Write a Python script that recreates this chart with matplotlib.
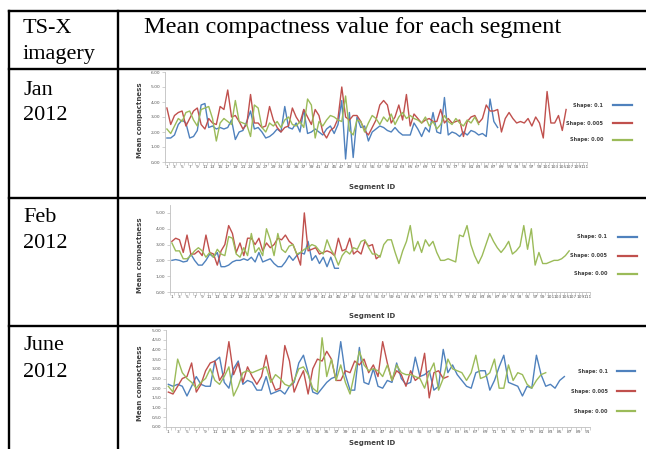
import matplotlib
matplotlib.use("Agg")
import matplotlib.pyplot as plt
import numpy as np
from matplotlib.lines import Line2D

# ---- data ----
row_labels = [["TS-X", "imagery"], ["Jan", "2012"], ["Feb", "2012"], ["June", "2012"]]
header = "Mean compactness value for each segment"
series_names = ["Shape: 0.1", "Shape: 0.005", "Shape: 0.00"]

jan_blue = [1.6, 1.6, 1.8, 2.5, 2.8, 2.6, 1.6, 1.7, 2.1, 3.8,
            3.9, 2.3, 2.4, 2.2, 2.3, 2.2, 2.3, 2.8, 1.5, 2.0,
            2.1, 2.7, 3.4, 2.2, 2.3, 2.0, 1.6, 1.7, 1.9, 2.2,
            2.0, 3.7, 2.3, 2.2, 2.6, 2.0, 3.5, 1.9, 2.0, 2.2,
            2.0, 1.8, 2.2, 2.4, 1.9, 2.5, 4.1, 0.2, 3.3, 0.3,
            3.0, 2.3, 2.4, 1.4, 2.0, 2.2, 2.4, 2.3, 2.1, 2.0,
            2.3, 2.0, 1.8, 1.8, 1.8, 2.6, 2.2, 1.7, 2.3, 2.0,
            3.3, 2.0, 1.9, 4.3, 1.8, 2.0, 1.9, 1.7, 2.0, 1.8,
            2.1, 2.0, 1.8, 1.9, 1.7, 4.2, 2.7, 2.3]
jan_red = [3.6, 2.5, 3.1, 3.3, 3.4, 2.4, 2.9, 3.4, 3.6, 2.5,
           2.2, 2.9, 2.6, 2.5, 3.7, 3.5, 4.8, 3.0, 3.1, 2.7,
           2.2, 2.5, 4.5, 2.6, 2.6, 2.3, 2.4, 3.7, 2.8, 2.3,
           2.0, 2.3, 2.4, 3.6, 3.0, 2.6, 3.5, 3.0, 2.5, 3.5,
           3.1, 2.0, 1.6, 2.1, 2.3, 2.9, 5.0, 3.0, 2.8, 3.1,
           3.1, 2.7, 2.1, 1.8, 2.3, 2.8, 3.8, 4.1, 3.8, 2.6,
           3.0, 3.8, 2.8, 4.5,
           2.4, 3.2, 2.9, 2.6, 2.8, 2.9, 2.7, 2.7, 3.5, 2.6, 2.9, 2.6, 2.7, 2.8, 1.7,
           2.7, 3.0, 3.1, 2.6, 2.9, 3.8,
           3.4, 3.4, 3.5, 2.0,
           2.9, 3.3, 2.9, 2.6, 2.7, 2.6, 2.9, 2.4, 3.0, 2.6, 1.6,
           4.7, 2.6, 2.6, 3.1, 2.1, 3.5]
jan_green = [2.2, 1.9, 2.4, 2.9, 2.7, 3.3, 3.4, 2.8, 2.4, 3.5,
             3.6, 3.7, 2.9, 1.4, 2.6, 2.9, 2.7, 2.5, 4.1, 2.7,
             2.6, 2.5, 1.7, 3.8, 3.6, 2.3, 2.0, 2.6, 2.4, 2.7,
             2.3, 2.8, 3.0, 2.5, 2.4, 2.7, 2.3, 4.2, 3.8, 1.6,
             2.7, 2.4, 2.8, 3.1, 3.0, 2.8, 2.7, 4.4, 2.1, 1.8,
             2.8, 2.7, 2.0, 2.6, 3.1, 2.9, 2.5, 3.0, 2.7, 3.2,
             2.5, 3.0, 3.3, 2.9, 3.1, 2.9, 2.8, 2.6, 3.0, 2.4,
             2.7, 2.2, 2.5, 3.1, 2.7, 2.5, 2.9, 2.6, 2.4, 2.8,
             2.6, 3.0, 2.5]

feb_blue = [2.0, 2.05, 2.0, 1.9, 1.95, 2.4, 2.0, 1.7, 1.7, 2.0,
            2.4, 2.2, 2.5, 1.6, 1.6, 1.7, 1.9, 2.0, 2.0, 2.1,
            2.0, 2.2, 1.9, 2.5, 1.9, 2.0, 2.1, 1.8, 1.6, 1.6,
            1.9, 2.3, 2.0, 2.3, 2.5, 2.4, 3.2, 2.0, 2.3, 1.8,
            2.2, 1.6, 2.2, 1.5, 1.5]
feb_red = [3.2, 3.4, 3.3, 2.5, 3.6, 2.4, 2.4, 2.6, 2.3, 3.6,
           2.5, 2.4, 1.7, 2.6, 3.0, 4.2, 3.7, 2.5, 3.1, 2.3,
           3.4, 3.4, 3.0, 3.4, 2.6, 3.1, 2.8, 3.0, 3.4, 3.3,
           3.6, 3.2, 3.0, 2.4, 1.7, 5.0, 2.6, 2.7, 2.8, 2.4,
           2.5, 2.6, 2.5, 2.3, 3.4, 2.6, 2.7, 3.4, 2.4, 2.6,
           2.4, 3.2, 2.9, 3.0, 2.1, 2.3]
feb_green = [3.1, 2.6, 2.6, 2.1, 2.1, 2.3, 2.6, 2.8, 2.6, 2.2,
             2.5, 2.2, 2.7, 2.4, 2.3, 3.5, 3.4, 2.4, 2.2, 2.8,
             2.3, 3.7, 2.5, 2.8, 2.3, 4.0, 3.3, 2.3, 3.7, 2.7,
             2.5, 2.9, 3.0, 2.4, 2.5, 2.7, 2.8, 3.0, 2.9, 2.6,
             2.4, 3.3, 2.7, 2.3, 1.7, 2.3, 2.6, 2.4, 2.8, 2.7,
             3.2, 3.3, 2.8, 2.4, 2.4, 2.2,
             3.0, 3.3, 3.3, 2.5, 1.8, 2.6, 3.2, 4.2, 2.6, 3.2,
             2.5, 3.3, 2.9, 3.2, 2.5, 2.0, 2.0, 2.1, 2.0, 1.9,
             3.6, 3.5, 4.2, 3.0, 2.3, 1.8, 2.3, 3.0, 3.7, 3.2,
             2.8, 2.5, 2.8, 3.2,
             2.4, 2.6, 2.9, 4.2, 2.7, 4.0, 1.7, 2.5, 1.8, 1.8,
             1.9, 2.0, 2.0, 2.1, 2.3, 2.6]

june_blue = [2.2, 2.1, 2.2, 2.1, 1.6, 2.1, 2.6, 2.2, 2.1, 2.1,
             3.4, 3.6, 2.3, 2.0, 3.0, 3.4, 2.2, 2.4, 2.3, 1.9,
             1.9, 2.6, 1.7, 1.8, 1.9, 1.7, 2.1, 2.3, 3.3, 3.7,
             2.8, 1.8, 1.7, 2.0, 2.3, 2.5, 2.6, 4.4, 2.7, 1.9,
             1.9, 4.1,
             2.3, 2.2, 3.0, 2.1, 2.0, 2.4, 2.3,
             3.3, 2.5, 2.2, 2.3, 3.6, 2.6, 2.7, 2.9, 1.9, 2.1,
             4.0, 2.8, 3.2, 2.7, 2.4, 2.1, 2.0, 2.8, 2.9, 2.9,
             1.9, 2.4, 3.1, 3.7, 2.3, 2.2, 2.1, 1.6, 2.1, 2.0,
             3.7, 2.7, 2.1, 2.2, 2.0, 2.4, 2.6]
june_red = [1.8, 1.7, 2.1, 2.5, 2.6, 3.3, 1.8, 2.2, 2.9, 3.3,
            3.4, 2.4, 2.8, 4.4, 2.7, 3.3, 2.3, 3.1, 2.6, 2.2,
            2.6, 3.7, 2.5, 1.9, 2.0, 4.2, 3.4, 1.8, 2.4, 2.9,
            1.7, 3.0, 3.5, 3.4, 3.9, 3.5, 2.4, 2.4, 2.9, 2.8,
            3.4, 3.2, 3.5, 2.8, 3.2, 2.6, 4.4, 3.3, 2.4, 2.9,
            2.7, 2.1, 2.9, 2.4, 2.6, 3.8, 1.5, 2.8, 2.9, 2.5,
            2.6]
june_green = [2.1, 1.8, 3.5, 2.8, 2.5, 2.3, 2.0, 2.3, 2.5, 3.0,
              2.4, 2.2, 2.6, 3.1, 1.6, 2.1, 2.8, 2.9, 2.8, 2.9,
              3.0, 3.1, 2.3, 2.7, 2.5, 2.2, 2.1, 2.4, 3.0, 3.1,
              2.7, 2.0, 1.8, 4.6, 2.6, 3.5, 2.4, 3.2, 2.3, 1.7,
              2.8, 3.9, 3.2, 2.9, 3.0, 2.9, 2.6, 3.2, 2.4, 3.2,
              2.8, 2.7, 2.7, 2.6, 2.5, 2.0, 2.8, 3.3, 1.9, 2.5,
              3.5, 3.0, 2.9, 2.8, 2.4, 2.8, 3.7, 2.5, 2.6, 2.8,
              3.5, 2.0, 2.0, 3.2, 2.4, 2.8, 2.7, 2.2, 2.0, 2.4,
              2.7, 2.8]

colors = ["#4F81BD", "#C0504D", "#9BBB59"]

W, H = 646, 449
fig = plt.figure(figsize=(W / 100, H / 100), dpi=100)
fig.patch.set_facecolor("white")


def fx(x):
    return x / W


def fy(y):
    return 1 - y / H


def hline(y, x0, x1):
    fig.add_artist(Line2D([fx(x0), fx(x1)], [fy(y), fy(y)], color="black",
                          lw=1.7, transform=fig.transFigure, zorder=10))


def vline(x, y0, y1):
    fig.add_artist(Line2D([fx(x), fx(x)], [fy(y0), fy(y1)], color="black",
                          lw=1.7, transform=fig.transFigure, zorder=10))


# table grid
for y in [11, 69, 198, 326]:
    hline(y, 9, W)
vline(9, 11, H)
vline(118, 11, H)

serif = "Liberation Serif"
baselines = [(33, 59), (95, 120), (222, 248), (350, 377)]
for (l1, l2), (b1, b2) in zip(row_labels, baselines):
    fig.text(fx(23), fy(b1), l1, family=serif, fontsize=16, va="baseline")
    fig.text(fx(23), fy(b2), l2, family=serif, fontsize=16, va="baseline")
fig.text(fx(353), fy(33), header, family=serif, fontsize=17.5, va="baseline", ha="center")

# charts: (series, n categories, ylim, ystep, axes box px, legend ys, ylabel y, xlabel y, legend x)
charts = [
    ((jan_blue, jan_red, jan_green), 111, 6, 1.0, (165, 72, 587, 162), (105, 123, 140), 120, 187, (603, 613, 632)),
    ((feb_blue, feb_red, feb_green), 111, 5.5, 1.0, (170, 205, 590, 292), (237, 256, 274), 255, 316, (607, 618, 637)),
    ((june_blue, june_red, june_green), 91, 5, 0.5, (166, 330, 590, 427), (371, 391, 411), 383, 443, (608, 617, 635)),
]

grey = "#BFBFBF"
tcol = "#595959"
for series, ncat, ymax, ystep, (x0, y0, x1, y1), leg_y, ylab_y, xlab_y, (lt, la, lb) in charts:
    ax = fig.add_axes([fx(x0), fy(y1), fx(x1) - fx(x0), fy(y0) - fy(y1)])
    for vals, c in zip(series, colors):
        xs = np.arange(1, len(vals) + 1)
        ax.plot(xs, vals, color=c, lw=1.0)
    ax.set_xlim(0.5, ncat + 0.5)
    ax.set_ylim(0, ymax)
    yt = np.arange(0, int(round(ymax / ystep)) * ystep + 0.001, ystep)
    yt = yt[yt <= ymax]
    ax.set_yticks(yt)
    ax.set_yticklabels([("%.2f" % v).replace(".", ",") for v in yt], fontsize=3.2, color=tcol)
    xt = np.arange(1, ncat + 1, 2)
    ax.set_xticks(xt)
    ax.set_xticklabels([str(v) for v in xt], fontsize=3.2, color=tcol)
    ax.set_xticks(np.arange(0.5, ncat + 1, 1), minor=True)
    ax.tick_params(axis="x", which="major", length=0, pad=2)
    ax.tick_params(axis="x", which="minor", length=2, color=grey, width=0.5)
    ax.tick_params(axis="y", length=2, color=grey, width=0.5, pad=1.5)
    for s in ["top", "right"]:
        ax.spines[s].set_visible(False)
    for s in ["left", "bottom"]:
        ax.spines[s].set_color(grey)
        ax.spines[s].set_linewidth(0.6)
    ax.set_facecolor("none")

    fig.text(fx(140), fy(ylab_y), "Mean compactness", rotation=90, fontsize=5,
             fontweight="bold", color="#404040", ha="center", va="center")
    fig.text(fx(372), fy(xlab_y), "Segment ID", fontsize=5, fontweight="bold",
             color="#404040", ha="center", va="center")
    for name, c, ly in zip(series_names, colors, leg_y):
        fig.text(fx(lt), fy(ly), name, fontsize=3.6, fontweight="bold",
                 color="#404040", ha="right", va="center")
        fig.add_artist(Line2D([fx(la), fx(lb)], [fy(ly), fy(ly)], color=c,
                              lw=1.6, transform=fig.transFigure))

fig.savefig("out.png", dpi=100)
